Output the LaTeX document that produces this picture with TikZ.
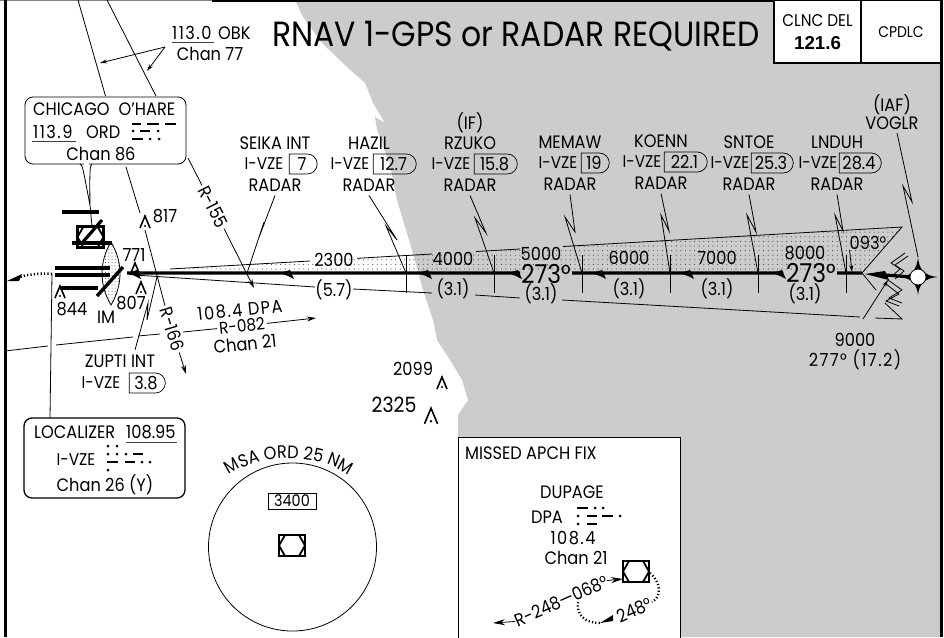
\documentclass[tikz,border=0pt]{standalone}
\usepackage{fontspec}
\setmainfont{Poppins}[FakeStretch=0.9]
\newfontfamily\helvfont{Liberation Sans}
\usetikzlibrary{arrows.meta,calc,decorations.text,patterns.meta,shapes.misc}
\definecolor{landgray}{gray}{0.8}
\newcommand{\chartsize}[1]{\fontsize{#1}{#1}\selectfont}
\tikzset{
  lbl/.style={inner sep=0pt, font=\chartsize{18}},
  vzelbl/.style={inner sep=0pt, font=\chartsize{17}},
  numlbl/.style={inner sep=0pt, font=\chartsize{18}\addfontfeature{LetterSpace=8}},
  dmebox/.style={rounded rectangle, rounded rectangle left arc=none, draw, line width=0.7pt, inner sep=0pt, minimum height=20pt, font=\chartsize{18}},
  thin leader/.style={line width=0.8pt},
  track/.style={line width=3.2pt},
  tick/.style={line width=1pt},
  barb/.style={line width=0.8pt, shorten <=2pt, -{Stealth[length=9pt,width=5pt]}},
  morse/.style={line width=2.6pt},
  holdline/.style={line width=2.4pt, dash pattern=on 1.2pt off 2.2pt},
  obst/.pic={
    \draw[line width=1.6pt] (-5,6) -- (0,-6) -- (5,6);
    \fill (0,4) circle (1.1);
  },
  navbox/.pic={
    \draw[line width=2.2pt, fill=white] (-13,-10.5) rectangle (13,10.5);
    \draw[line width=1.8pt] (-13,0) -- (-7,-10.5) (7,-10.5) -- (13,0) -- (7,10.5) (-7,10.5) -- (-13,0);
  }
}
\begin{document}
\begin{tikzpicture}[x=1pt,y=-1pt]
  \useasboundingbox (0,0) rectangle (944,637);

  % Land and frame
  \fill[landgray] (295,0) -- (303,17) -- (322,43) -- (347,67) -- (365,83) -- (373,103) -- (385,123) -- (375,117) -- (377,130)
    -- (390,165) -- (397,200)
    -- (412,250) -- (423,290) -- (433,320) -- (437,340) -- (450,360) -- (462,380) -- (468,400) -- (458,415)
    -- (458,437) -- (458,637) -- (940,637) -- (940,0) -- cycle;
  \draw[line width=1pt, gray] (0,0) -- (212,0);
  \draw[line width=3pt] (212,0) -- (775,0);
  \draw[line width=3pt] (5.5,0) -- (5.5,637);
  \draw[line width=3pt] (941.5,0) -- (941.5,637);

  % Clearance boxes
  \node[draw, fill=white, line width=1.2pt, minimum width=87pt, minimum height=63pt, inner sep=0pt] (clnc) at (817.5,31.5) {};
  \node[draw, fill=white, line width=1.2pt, minimum width=80pt, minimum height=63pt, inner sep=0pt] (cpdlc) at (901,31.5) {};
  \node[inner sep=0pt, font=\chartsize{17}] (clnclbl) at (817.5,21) {CLNC DEL};
  \node[inner sep=0pt, font=\chartsize{18.7}\helvfont\bfseries] (clncfreq) at (817.5,43) {121.6};
  \node[inner sep=0pt, font=\chartsize{15.5}] (cpdlclbl) at (901,32) {CPDLC};
  \node[inner sep=0pt, font=\chartsize{35}] (title) at (516,36) {RNAV 1-GPS or RADAR REQUIRED};

  % Missed approach box
  \node[draw, fill=white, line width=0.8pt, minimum width=222pt, minimum height=202pt, inner sep=0pt] (missed) at (569,538) {};
  \node[lbl, anchor=west] (missedlbl) at (465,453) {MISSED APCH FIX};
  \node[lbl] (dupage) at (572,492) {DUPAGE};
  \node[lbl] (dpalbl) at (547,517) {DPA};
  \node[numlbl] (dpafreq) at (573,538) {108.4};
  \node[lbl] (dpachan) at (576,558) {Chan 21};
  \draw[morse] (577,508) -- (588,508) (587,516) -- (597,516) (602,516) -- (613,516) (587,524) -- (597,524);
  \foreach \dx/\dy in {595/508,603/508,578/516,620/516,578/524} \fill (\dx,\dy) circle (1.5);
  \pic at (636,571.5) {navbox};
  \coordinate (dpanav) at (623,579);
  \coordinate (dpaout) at (493,623);
  \node[lbl, rotate=24] (radial) at (561,601) {R-248---068°};
  \draw[line width=0.8pt, -{Stealth[length=12pt,width=6pt]}] (radial.west) -- (dpaout);
  \draw[line width=0.8pt, -{Stealth[length=12pt,width=6pt]}] (radial.east) -- (dpanav);
  \node[lbl, rotate=24] (hold) at (634,610) {248°};
  \draw[holdline] (650,573) .. controls (661,582) and (662,597) .. (652,602);
  \draw[holdline] (578,602) .. controls (576,615) and (585,623) .. (600,623);
  \coordinate (holdtip) at (600,623);
  \fill (holdtip) -- (613,615) -- (613,621) -- cycle;

  % Wedge
  \path[pattern={Dots[distance=4.6pt,radius=0.55pt]}, pattern color=black!75] (170,269) -- (902,227) -- (862,273) -- cycle;
  \draw[thin leader] (170,269) -- (310,261) (357,258.3) -- (432,254) (476,251.5) -- (520,249) (563,246.5) -- (902,227) -- (862,273) -- (876,290);
  \draw[thin leader] (135,275) -- (315,287) (353,289) -- (432,293) (475,295) -- (520,298) (562,300) -- (860,317) (875,318) -- (902,319) -- (885,303);

  % Track and ticks
  \draw[track] (127,273) -- (520,273) (572,273) -- (783,273) (837,273) -- (862,273) (885,275) -- (912,277);
  \foreach \ax in {127,280,418,508,592,680,772} \fill (\ax,273) -- (\ax+10,270) -- (\ax+14,279) -- (\ax+8,276) -- cycle;
  \fill (865,274) -- (885,271) -- (889,280) -- cycle;
  \foreach \tx in {406,494,582,670,758,846} \draw[tick] (\tx,255) -- (\tx,293);

  % Fixes with bolts
  \foreach \fix/\fixname/\tx/\ty/\vx/\bx/\bw/\dme/\zx/\zy/\yx/\yy/\ex in {
    seika/SEIKA INT/275/143/264/302/28/7/258/240/264/222/247,
    hazil/HAZIL/369/143/350/393.5/43/12.7/397/240/386/226/406,
    rzuko/RZUKO/470/143/451/494.5/43/15.8/486/233/475/218/494,
    memaw/MEMAW/570/142/558/594/28/19/575/232/565/217/582,
    koenn/KOENN/661/141/642/684.5/43/22.1/669/231/661/215/670,
    sntoe/SNTOE/749/142/730/771/42/25.3/756/232/747/215/758,
    lnduh/LNDUH/837/142/818/859/42/28.4/843/231/835/215/846} {
    \node[lbl] (\fix name) at (\tx,\ty) {\fixname};
    \node[vzelbl] (\fix vze) at (\vx,\ty+21) {I-VZE};
    \node[dmebox, minimum width=\bw pt] (\fix dme) at (\bx,\ty+21) {\dme};
    \node[lbl] (\fix radar) at (\tx,\ty+42) {RADAR};
    \coordinate (\fix end) at (\ex,273);
    \draw[thin leader] ($(\fix radar.south)+(0,4)$) -- (\zx,\zy) -- (\yx,\yy) -- (\fix end);
  }
  \node[lbl] (iflbl) at (470,123) {(IF)};
  \node[lbl] (iaflbl) at (892,105) {(IAF)};
  \node[lbl] (voglr) at (892,123) {VOGLR};
  \coordinate (voglrtop) at (918,257);
  \draw[thin leader] (897,133) -- (912,202) -- (903,186) -- (voglrtop);

  % Altitudes and distances
  \foreach \ax/\ay/\aval in {334/260/2300,453/259/4000,541/254/5000,629/258/6000,717/258/7000,805/253/8000}
    \node[lbl] (alt\aval) at (\ax,\ay) {\aval};
  \foreach \dx/\dy/\dval in {334/290/5.7,453/289/3.1,541/294/3.1,629/289/3.1,717/289/3.1,805/294/3.1}
    \node[lbl] at (\dx,\dy) {(\dval)};
  \node[inner sep=0pt, font=\chartsize{26}] (crsa) at (546,274) {273°};
  \node[inner sep=0pt, font=\chartsize{26}] (crsb) at (811,273) {273°};
  \node[lbl] (turn) at (868,243) {093°};
  \coordinate (turntip) at (852,272);
  \draw[line width=0.8pt, -{Stealth[length=7pt,width=4pt]}] (turn.south west) -- (turntip);
  \node[lbl] (alt9000) at (855,340) {9000};
  \node[numlbl] (crsc) at (855,360) {277° (17.2)};
  \coordinate (feedtip) at (888,280);
  \draw[line width=0.8pt, -{Stealth[length=7pt,width=4pt]}] (863,319) -- (feedtip);

  % Break marks
  \draw[line width=0.8pt] (905,253) -- (891,263) -- (900,269) -- (892,276) (908,256) -- (895,265) -- (904,271) -- (895,279);
  \draw[line width=0.8pt] (888,280) -- (902,290) -- (889,298) -- (902,303) (886,284) -- (899,294) -- (886,301) -- (899,306);

  % VOGLR symbol
  \fill (918,257) .. controls (919,270) and (925,276) .. (938,277) .. controls (925,278) and (919,284) .. (918,295)
    .. controls (917,284) and (911,278) .. (900,277) .. controls (911,276) and (917,270) .. (918,257) -- cycle;
  \node[circle, draw, fill=white, line width=0.8pt, minimum size=16pt, inner sep=0pt] (voglrfix) at (918,277) {};

  % OBK radials
  \draw[thin leader] (78,0) -- (105.5,96) (107,0) -- (156,96);
  \node[numlbl, anchor=west] (obkfreq) at (172,33) {113.0};
  \node[lbl, anchor=west] (obkid) at (218,33) {OBK};
  \draw[line width=0.8pt, gray!50!black] (172,42) -- (214,42);
  \node[lbl] (obkchan) at (210,54) {Chan 77};
  \coordinate (obkfork) at (165,47);
  \coordinate (obka) at (100,63);
  \coordinate (obkb) at (147,71);
  \draw[line width=0.8pt, -{Stealth[length=7pt,width=4pt]}] (obkfork) -- (obka);
  \draw[line width=0.8pt, -{Stealth[length=7pt,width=4pt]}] (obkfork) -- (obkb);

  % Chicago box
  \node[draw, fill=white, rounded corners=8pt, line width=0.8pt, minimum width=161pt, minimum height=67pt, inner sep=0pt] (chicago) at (105.5,130.5) {};
  \draw[white, line width=1.5pt] (84,164) -- (89,164);
  \coordinate (tailend) at (90,205);
  \draw[line width=0.8pt] (80,164) .. controls (83,165) and (83,170) .. (tailend) (92,164) .. controls (90,165) and (89.5,170) .. (tailend);
  \node[lbl, anchor=west] (chicagolbl) at (33,109) {CHICAGO\enspace O'HARE};
  \node[numlbl, anchor=west] (ordfreq) at (33,132) {113.9};
  \draw[line width=0.8pt, gray!50!black] (32,141) -- (76,141);
  \node[lbl, anchor=west] (ordid) at (86,132) {ORD};
  \node[lbl] (ordchan) at (101,154) {Chan 86};
  \draw[morse] (132,124) -- (141,124) (147,124) -- (159,124) (165,124) -- (176,124) (140,131) -- (150,131) (132,139) -- (143,139);
  \foreach \dx/\dy in {133/131,158/131,150/139,159/139} \fill (\dx,\dy) circle (1.5);

  % R-155 and R-166
  \node[lbl, rotate=-63] (rxv) at (213,207) {R-155};
  \draw[thin leader, shorten >=2pt] (188,158) -- (rxv.west);
  \coordinate (rxvtip) at (254,288);
  \draw[barb] (rxv.east) -- (rxvtip);
  \node[lbl, rotate=-73] (rxvi) at (172,329) {R-166};
  \coordinate (rxvitip) at (186,374);
  \draw[thin leader, shorten >=2pt] (126,167) -- (140,213) (145,230) -- (rxvi.west);
  \draw[barb] (rxvi.east) -- (rxvitip);

  % DPA radial
  \node[numlbl, rotate=6] (dparad) at (240,310) {108.4 DPA};
  \node[vzelbl, rotate=6] (dparr) at (242,326) {R-082};
  \node[lbl, rotate=6] (dpach) at (245,344) {Chan 21};
  \coordinate (dpatip) at (316,318);
  \draw[thin leader, shorten >=2pt] (5,351) -- (48,346) (56,345) -- (133,337) (138,336) -- (160,334) (183,332) -- (dparr.west);
  \draw[barb] (dparr.east) -- (dpatip);

  % Airport
  \draw[line width=3.4pt] (62,212) -- (99,212);
  \draw[line width=0.8pt] (tailend) -- (92,226);
  \pic at (90.5,237) {navbox};
  \draw[line width=3.2pt] (102,220) -- (82,243);
  \draw[line width=3.2pt] (72,243) -- (112,243);
  \draw[line width=0.8pt, pattern={Dots[distance=3.2pt,radius=0.5pt]}, pattern color=black!75] (111,242) .. controls (123,262) and (123,285) .. (111,305) .. controls (99,285) and (99,262) .. (111,242) -- cycle;
  \draw[line width=3.2pt] (55,268) -- (110,268) (55,275) -- (110,275) (60,288) -- (98,288);
  \draw[line width=3.4pt] (97,296) -- (123,267);
  \coordinate (locend) at (52,274);
  \coordinate (misstip) at (7,281);
  \draw[holdline, line width=2.6pt] (locend) .. controls (42,273) and (30,274) .. (20,277);
  \fill (misstip) -- (22,274) -- (19,281) -- cycle;

  % Obstacles
  \pic at (145,222) {obst};
  \node[lbl] (obsa) at (165,216) {817};
  \pic at (135,269) {obst};
  \node[lbl] (obsb) at (134,255) {771};
  \pic at (141,288) {obst};
  \node[lbl] (obsc) at (131,303) {807};
  \pic at (60,292) {obst};
  \node[lbl] (obsd) at (72,309) {844};
  \node[lbl] (imlbl) at (106,317) {IM};
  \pic at (442,383) {obst};
  \node[lbl] (obse) at (413,369) {2099};
  \pic[scale=1.3] at (431,416) {obst};
  \node[inner sep=0pt, font=\chartsize{21}] (obsf) at (394,405) {2325};

  % Zupti
  \node[lbl] (zupti) at (120,361) {ZUPTI INT};
  \node[vzelbl] (zuptivze) at (101,383) {I-VZE};
  \node[dmebox, minimum width=36pt] (zuptidme) at (146,383) {3.8};
  \coordinate (zuptiend) at (157,277);
  \draw[thin leader] (135,350) -- (148,303) -- (147,320) -- (zuptiend);

  % Localizer box
  \node[draw, fill=white, rounded corners=8pt, line width=1.3pt, minimum width=161pt, minimum height=80pt, inner sep=0pt] (loc) at (104.5,458) {};
  \draw[thin leader] (50,418) -- (locend);
  \node[lbl, anchor=west] (loclbl) at (34,432) {LOCALIZER};
  \node[lbl, anchor=west] (locfreq) at (126,432) {108.95};
  \draw[line width=0.8pt, gray!50!black] (126,442) -- (177,442);
  \node[vzelbl] (locid) at (76,460) {I-VZE};
  \node[lbl] (locchan) at (105,485) {Chan 26 (Y)};
  \draw[morse] (133,454) -- (143,454) (107,462) -- (118,462) (125,462) -- (135,462);
  \foreach \dx/\dy in {108/446,117/446,108/454,117/454,126/454,142/462,150/462,108/470} \fill (\dx,\dy) circle (1.5);

  % MSA circle
  \node[circle, draw, line width=0.8pt, minimum size=168pt, inner sep=0pt] (msa) at (292.5,547) {};
  \path[decorate, decoration={text along path, text align=center, text={|\chartsize{18}|MSA ORD 25 NM}}]
    (219,484) .. controls (250,450) and (328,450) .. (359,484);
  \node[draw, line width=0.7pt, minimum width=48pt, minimum height=16pt, inner sep=0pt, font=\chartsize{16}] (msaalt) at (292,501) {3400};
  \pic at (292,545.5) {navbox};
\end{tikzpicture}
\end{document}
